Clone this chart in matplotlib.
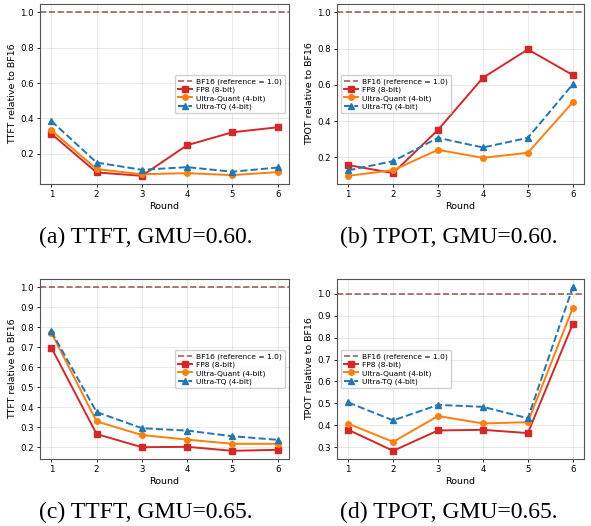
import matplotlib
matplotlib.use("Agg")
import matplotlib.pyplot as plt

rounds = [1, 2, 3, 4, 5, 6]

ttft_060_fp8 = [0.313, 0.095, 0.076, 0.249, 0.322, 0.350]
ttft_060_uq = [0.333, 0.114, 0.085, 0.091, 0.080, 0.097]
ttft_060_tq = [0.386, 0.151, 0.110, 0.125, 0.099, 0.123]

tpot_060_fp8 = [0.158, 0.114, 0.352, 0.639, 0.795, 0.654]
tpot_060_uq = [0.099, 0.130, 0.242, 0.198, 0.226, 0.504]
tpot_060_tq = [0.129, 0.180, 0.308, 0.255, 0.308, 0.603]

ttft_065_fp8 = [0.698, 0.266, 0.200, 0.202, 0.182, 0.187]
ttft_065_uq = [0.773, 0.329, 0.261, 0.238, 0.217, 0.217]
ttft_065_tq = [0.779, 0.376, 0.295, 0.283, 0.255, 0.237]

tpot_065_fp8 = [0.379, 0.283, 0.376, 0.379, 0.364, 0.863]
tpot_065_uq = [0.407, 0.324, 0.442, 0.408, 0.414, 0.936]
tpot_065_tq = [0.504, 0.422, 0.493, 0.484, 0.432, 1.031]

captions = ["(a) TTFT, GMU=0.60.", "(b) TPOT, GMU=0.60.",
            "(c) TTFT, GMU=0.65.", "(d) TPOT, GMU=0.65."]
ylabels = ["TTFT relative to BF16", "TPOT relative to BF16",
           "TTFT relative to BF16", "TPOT relative to BF16"]
legend_locs = ["center right", "center left", "center right", "center left"]
panels = [
    (ttft_060_fp8, ttft_060_uq, ttft_060_tq),
    (tpot_060_fp8, tpot_060_uq, tpot_060_tq),
    (ttft_065_fp8, ttft_065_uq, ttft_065_tq),
    (tpot_065_fp8, tpot_065_uq, tpot_065_tq),
]

W, H = 591, 526
fig = plt.figure(figsize=(W / 100, H / 100), dpi=100)

# axes boxes in pixels: left, right, top, bottom
boxes = [
    (40, 289, 4, 184),
    (337, 584, 4, 184),
    (40, 289, 279, 459),
    (337, 584, 279, 459),
]
caption_pos = [(146, 237), (449, 237), (146, 512), (449, 512)]

for i, (box, (fp8, uq, tq)) in enumerate(zip(boxes, panels)):
    l, r, t, b = box
    ax = fig.add_axes([l / W, 1 - b / H, (r - l) / W, (b - t) / H])
    ax.axhline(1.0, color="#8c564b", linestyle="--", linewidth=1.2, alpha=0.9,
               label="BF16 (reference = 1.0)")
    ax.plot(rounds, fp8, color="#d62728", marker="s", markersize=4,
            linewidth=1.4, label="FP8 (8-bit)")
    ax.plot(rounds, uq, color="#ff7f0e", marker="o", markersize=4,
            linewidth=1.4, label="Ultra-Quant (4-bit)")
    ax.plot(rounds, tq, color="#1f77b4", marker="^", markersize=4,
            linewidth=1.4, linestyle="--", label="Ultra-TQ (4-bit)")
    ax.set_xticks(rounds)
    ax.set_xlabel("Round", fontsize=6.8, labelpad=2)
    ax.set_ylabel(ylabels[i], fontsize=6.8, labelpad=2.5)
    ax.tick_params(labelsize=6.2, length=2.5, width=0.6, pad=2)
    ax.grid(True, alpha=0.3, linewidth=0.6)
    for s in ax.spines.values():
        s.set_color("#555555")
        s.set_linewidth(0.8)
    ax.legend(loc=legend_locs[i], fontsize=5.4, framealpha=0.9,
              handlelength=1.9, borderpad=0.4, labelspacing=0.22,
              handletextpad=0.6)
    cx, cy = caption_pos[i]
    fig.text(cx / W, 1 - cy / H, captions[i], ha="center", va="center",
             fontsize=17, family="Liberation Serif")

fig.savefig("out.png", dpi=100)
